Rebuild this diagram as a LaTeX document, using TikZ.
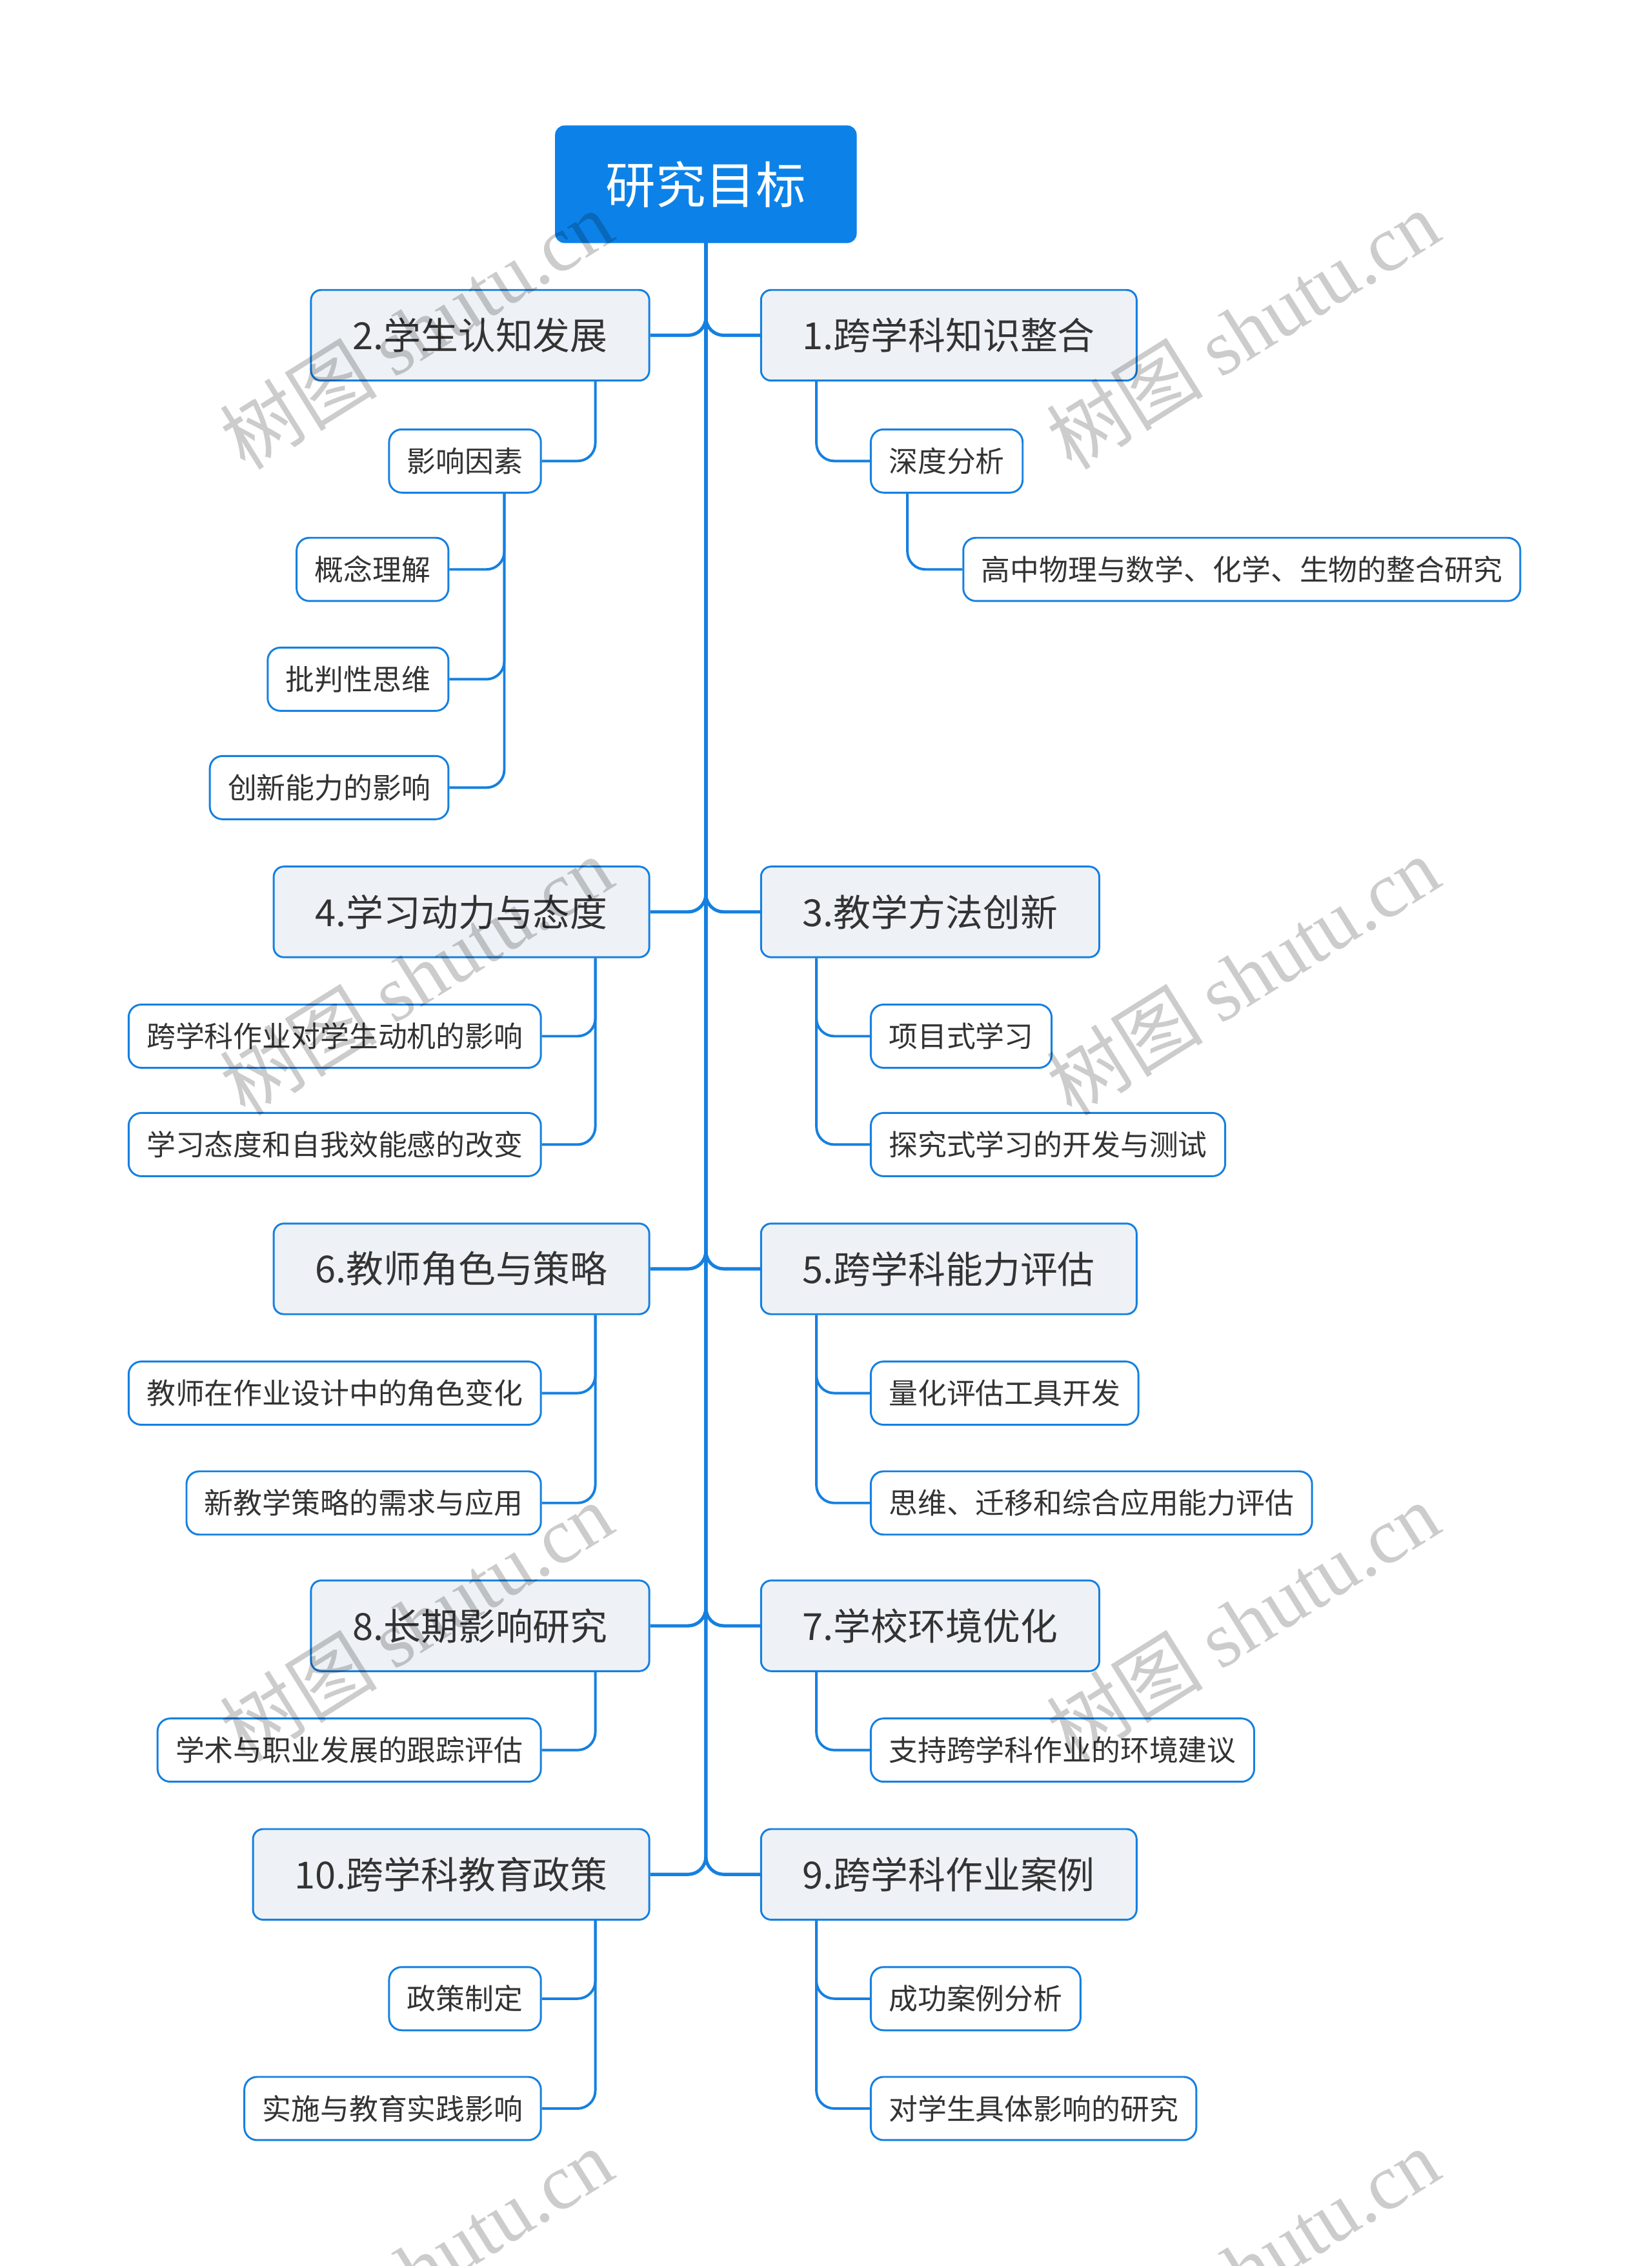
\documentclass[tikz,border=0pt]{standalone}
\usepackage{fontspec}
\setmainfont{Noto Sans CJK SC}
\newfontfamily\wmfont{Liberation Serif}
\usetikzlibrary{calc}
\definecolor{rootblue}{HTML}{0C82E9}
\definecolor{lineblue}{HTML}{1580E0}
\definecolor{boxfill}{HTML}{EEF2F6}
\definecolor{ink}{HTML}{333333}
\tikzset{
 goal/.style={fill=rootblue,draw=rootblue,text=white,rounded corners=3.5pt,minimum height=45.9pt,inner xsep=19.8pt,font=\fontsize{19.7}{22}\selectfont},
 topic/.style={fill=boxfill,draw=lineblue,line width=.75pt,text=ink,rounded corners=4pt,minimum height=35.7pt,inner xsep=16.4pt,font=\fontsize{14.7}{17}\selectfont},
 item/.style={fill=white,draw=lineblue,line width=.75pt,text=ink,rounded corners=5pt,minimum height=24.9pt,inner xsep=7.1pt,font=\fontsize{11.4}{13}\selectfont},
 trunk/.style={draw=lineblue,line width=1.3pt,rounded corners=7pt},
 twig/.style={draw=lineblue,line width=1pt,rounded corners=7pt},
 wm/.style={rotate=32,text=black,text opacity=.2,font=\fontsize{31}{34}\selectfont}
}
\begin{document}
\begin{tikzpicture}[x=.02cm,y=-.02cm]
\useasboundingbox[fill=white](0,0)rectangle(1143,1568);
\node[goal](goal)at(488.5,127.5){研究目标};
% level 1
\node[topic,anchor=east](t2)at(450,232){2.学生认知发展};
\node[topic,anchor=west](t1)at(526,232){1.跨学科知识整合};
\node[topic,anchor=east](t4)at(450,631){4.学习动力与态度};
\node[topic,anchor=west](t3)at(526,631){3.教学方法创新};
\node[topic,anchor=east](t6)at(450,878){6.教师角色与策略};
\node[topic,anchor=west](t5)at(526,878){5.跨学科能力评估};
\node[topic,anchor=east](t8)at(450,1125){8.长期影响研究};
\node[topic,anchor=west](t7)at(526,1125){7.学校环境优化};
\node[topic,anchor=east](t10)at(450,1297){10.跨学科教育政策};
\node[topic,anchor=west](t9)at(526,1297){9.跨学科作业案例};
\foreach \t in {t2,t4,t6,t8,t10}\draw[trunk](goal.south)|-(\t.east);
\foreach \t in {t1,t3,t5,t7,t9}\draw[trunk](goal.south)|-(\t.west);
% level 2, left
\node[item,anchor=east](i21)at(375,319){影响因素};
\node[item,anchor=east](i211)at(311,394){概念理解};
\node[item,anchor=east](i212)at(311,470){批判性思维};
\node[item,anchor=east](i213)at(311,545){创新能力的影响};
\node[item,anchor=east](i41)at(375,717){跨学科作业对学生动机的影响};
\node[item,anchor=east](i42)at(375,792){学习态度和自我效能感的改变};
\node[item,anchor=east](i61)at(375,964){教师在作业设计中的角色变化};
\node[item,anchor=east](i62)at(375,1040){新教学策略的需求与应用};
\node[item,anchor=east](i81)at(375,1211){学术与职业发展的跟踪评估};
\node[item,anchor=east](i101)at(375,1383){政策制定};
\node[item,anchor=east](i102)at(375,1459){实施与教育实践影响};
% level 2, right
\node[item,anchor=west](i11)at(602,319){深度分析};
\node[item,anchor=west](i111)at(666,394){高中物理与数学、化学、生物的整合研究};
\node[item,anchor=west](i31)at(602,717){项目式学习};
\node[item,anchor=west](i32)at(602,792){探究式学习的开发与测试};
\node[item,anchor=west](i51)at(602,964){量化评估工具开发};
\node[item,anchor=west](i52)at(602,1040){思维、迁移和综合应用能力评估};
\node[item,anchor=west](i71)at(602,1211){支持跨学科作业的环境建议};
\node[item,anchor=west](i91)at(602,1383){成功案例分析};
\node[item,anchor=west](i92)at(602,1459){对学生具体影响的研究};
% twigs
\draw[twig]($(t2.south east)+(-38,0)$)|-(i21.east);
\foreach \i in {i211,i212,i213}\draw[twig]($(i21.south east)+(-26,0)$)|-(\i.east);
\foreach \i in {i41,i42}\draw[twig]($(t4.south east)+(-38,0)$)|-(\i.east);
\foreach \i in {i61,i62}\draw[twig]($(t6.south east)+(-38,0)$)|-(\i.east);
\draw[twig]($(t8.south east)+(-38,0)$)|-(i81.east);
\foreach \i in {i101,i102}\draw[twig]($(t10.south east)+(-38,0)$)|-(\i.east);
\draw[twig]($(t1.south west)+(39,0)$)|-(i11.west);
\draw[twig]($(i11.south west)+(26,0)$)|-(i111.west);
\foreach \i in {i31,i32}\draw[twig]($(t3.south west)+(39,0)$)|-(\i.west);
\foreach \i in {i51,i52}\draw[twig]($(t5.south west)+(39,0)$)|-(\i.west);
\draw[twig]($(t7.south west)+(39,0)$)|-(i71.west);
\foreach \i in {i91,i92}\draw[twig]($(t9.south west)+(39,0)$)|-(\i.west);
% watermark
\foreach \y in {228,675,1122,1569}\foreach \x in {288,860}
 \node[wm](wm-\x-\y)at(\x,\y){树图 {\wmfont shutu.cn}};
\end{tikzpicture}
\end{document}
